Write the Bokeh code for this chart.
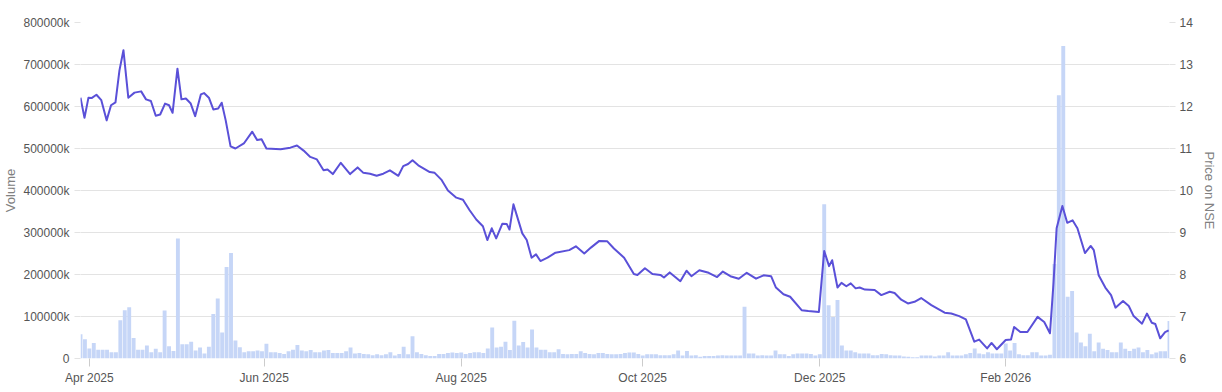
from bokeh.plotting import figure
from bokeh.models import Range1d, LinearAxis, FixedTicker, PrintfTickFormatter, ColumnDataSource
from bokeh.embed import file_html
from bokeh.resources import INLINE

# ---- data (volume in thousands, one bar per trading day) ----
volume_k = [
    58000, 46000, 24000, 37000, 21000, 21000, 21000, 15000, 15000, 91000,
    115000, 122000, 49000, 21000, 21000, 31000, 15000, 23000, 15000, 114000,
    29000, 18000, 286000, 34000, 34000, 40000, 19000, 26000, 12000, 28000,
    106000, 143000, 62000, 218000, 251000, 43000, 27000, 15000, 17000, 17000,
    19000, 17000, 35000, 15000, 15000, 13000, 11000, 17000, 21000, 32000,
    19000, 17000, 20000, 15000, 15000, 19000, 20000, 13000, 13000, 13000,
    17000, 26000, 12000,
    13000, 11000, 10000, 8000, 10000, 8000, 10000, 15000, 7000, 11000,
    28000, 10000, 53000, 15000, 11000, 8000, 6000, 6000, 11000, 11000,
    13000, 14000, 13000, 14000, 11000, 13000, 15000, 15000, 13000, 24000,
    74000, 26000, 28000, 40000, 20000, 90000, 31000, 39000, 26000, 69000,
    26000, 21000, 21000, 15000, 15000, 22000, 11000, 10000, 11000, 11000,
    17000, 13000, 11000, 10000, 13000, 13000, 11000, 10000, 10000, 11000,
    13000, 14000,
    14000, 11000, 7000, 10000, 10000, 10000, 8000, 8000, 8000, 10000,
    19000, 7000, 18000, 7000, 8000, 4000, 6000, 6000, 6000, 7000,
    8000, 7000, 7000, 7000, 7000, 123000, 12000, 12000, 7000, 8000,
    7000, 7000, 19000, 10000, 10000, 6000, 10000, 12000, 12000, 12000,
    11000, 7000, 10000, 367000, 127000, 99000, 139000, 31000, 19000, 19000,
    15000, 12000, 12000, 12000, 8000, 8000, 11000, 10000, 8000, 7000,
    7000,
    5000, 4000, 3000, 3000, 7000, 7000, 7000, 5000, 7000, 7000,
    15000, 7000, 7000, 7000, 10000, 13000, 24000, 12000, 10000, 15000,
    12000, 12000, 12000, 36000, 19000, 37000, 10000, 8000, 8000, 15000,
    15000, 7000, 7000, 9000, 225000, 627000, 744000, 147000, 161000, 62000,
    38000, 29000, 59000, 17000, 38000, 23000, 20000, 15000, 15000, 38000,
    23000, 18000, 23000, 26000, 15000, 20000, 10000, 14000, 17000, 17000,
    89000,
]
day_idx = list(range(len(volume_k)))

# price on NSE, read at positions along the trading-day index
price_idx = [
    0, 0.9, 1.8, 2.5, 3.6, 4.7, 5.9, 6.9, 7.9, 8.8, 9.7, 10.8, 12.2, 13.7, 14.8,
    15.9, 17.0, 18.0, 19.1, 20.0, 20.8, 21.9, 22.8, 23.8, 24.9, 25.9, 27.2, 27.9,
    29.0, 30.0, 31.1, 31.9, 32.8, 33.9, 35.0, 36.9, 38.8, 39.9, 40.9, 42.0, 45.2,
    47.4, 48.9, 50.4, 51.9, 53.4, 54.9, 55.8, 57.0, 58.8, 60.9, 62.6, 63.9, 65.4,
    66.9, 68.4, 69.9, 71.8, 72.9, 74.0, 75.0, 76.3, 78.9, 80.0, 81.5, 83.0, 84.9,
    86.4, 87.9, 89.4, 90.9, 91.9, 92.9, 93.9, 95.3, 96.3, 96.9, 97.8, 99.8, 100.8,
    101.9, 102.9, 103.9, 105.5, 107.3, 110.4, 111.9, 113.8, 115.3, 117.2, 119.0,
    120.5, 122.8, 125.0, 125.8, 127.5, 129.2, 131.0, 131.8, 133.1, 135.5, 136.9,
    138.0, 139.8, 141.9, 143.8, 145.1, 146.8, 148.7, 150.5, 152.6, 154.3, 156.0,
    157.1, 158.8, 160.3, 162.9, 164.4, 166.8, 168.0, 169.1, 169.8, 171.0, 171.9,
    173.0, 174.0, 175.1, 176.0, 177.2, 179.4, 180.9, 182.8, 183.9, 185.4, 186.9,
    188.4, 189.9, 192.2, 195.2, 196.7, 198.5, 200.0, 201.9, 203.0, 204.8, 205.8,
    207.0, 209.0, 210.2, 210.9, 212.3, 213.9, 216.2, 217.7, 219.0, 219.8, 220.5,
    221.8, 222.9, 224.1, 225.2, 226.9, 228.2, 228.9, 230.0, 231.5, 232.8, 233.8,
    235.5, 236.8, 237.9, 239.8, 240.9, 242.0, 242.8, 243.9, 245.0, 245.8,
]
price = [
    12.21, 11.73, 12.21, 12.20, 12.28, 12.15, 11.67, 12.03, 12.10, 12.86, 13.34,
    12.21, 12.33, 12.36, 12.17, 12.13, 11.78, 11.81, 12.07, 12.03, 11.85, 12.90,
    12.17, 12.19, 12.07, 11.77, 12.29, 12.32, 12.21, 11.93, 11.95, 12.09, 11.67,
    11.05, 11.00, 11.12, 11.40, 11.20, 11.22, 11.00, 10.98, 11.02, 11.07, 10.95,
    10.80, 10.74, 10.48, 10.50, 10.39, 10.66, 10.39, 10.55, 10.42, 10.40, 10.35,
    10.40, 10.48, 10.35, 10.58, 10.63, 10.72, 10.60, 10.44, 10.42, 10.26, 10.00,
    9.83, 9.78, 9.53, 9.31, 9.15, 8.82, 9.10, 8.86, 9.21, 9.20, 9.07, 9.67, 8.98,
    8.82, 8.40, 8.48, 8.32, 8.40, 8.52, 8.58, 8.67, 8.50, 8.64, 8.80, 8.79, 8.62,
    8.40, 8.01, 7.99, 8.15, 8.01, 7.99, 7.93, 8.05, 7.84, 8.09, 7.96, 8.10, 8.04,
    7.94, 8.07, 7.96, 7.90, 8.04, 7.90, 7.98, 7.96, 7.69, 7.53, 7.47, 7.15, 7.13,
    7.11, 8.56, 8.20, 8.34, 7.69, 7.80, 7.72, 7.79, 7.67, 7.69, 7.64, 7.63, 7.51,
    7.59, 7.56, 7.40, 7.31, 7.35, 7.44, 7.27, 7.09, 7.07, 7.01, 6.93, 6.40, 6.45,
    6.24, 6.37, 6.22, 6.44, 6.45, 6.75, 6.63, 6.63, 6.99, 6.87, 6.60, 7.80, 9.10,
    9.63, 9.23, 9.29, 9.10, 8.51, 8.68, 8.58, 7.98, 7.69, 7.51, 7.21, 7.37, 7.25,
    7.01, 6.83, 7.07, 6.85, 6.82, 6.48, 6.63, 6.67,
]

month_tick_pos = [2, 41.5, 86, 127, 167, 209]
month_labels = ["Apr 2025", "Jun 2025", "Aug 2025", "Oct 2025", "Dec 2025", "Feb 2026"]
volume_ticks = [0, 100000, 200000, 300000, 400000, 500000, 600000, 700000, 800000]
price_ticks = [6, 7, 8, 9, 10, 11, 12, 13, 14]

FONT = "Liberation Sans"
GRID = "#e3e3e3"
LABEL = "#555555"
TITLE = "#808080"

p = figure(width=1222, height=392, output_backend="svg", toolbar_location=None,
           x_range=Range1d(0, len(volume_k) - 1), y_range=Range1d(0, 800000),
           min_border_left=76, min_border_right=53, min_border_top=22, min_border_bottom=34)
p.extra_y_ranges = {"price": Range1d(6, 14)}
p.outline_line_color = None
p.background_fill_color = "white"
p.border_fill_color = "white"

src = ColumnDataSource(dict(x=day_idx, v=volume_k))
p.vbar(x="x", top="v", width=0.88, source=src, fill_color="#c6d6f7", line_color=None)
p.line(price_idx, price, y_range_name="price", line_color="#5a50d8", line_width=2,
       line_join="round")

p.xgrid.visible = False
p.ygrid.grid_line_color = GRID
p.ygrid.ticker = FixedTicker(ticks=volume_ticks)

# left axis
ya = p.yaxis[0]
ya.ticker = FixedTicker(ticks=volume_ticks)
ya.formatter = PrintfTickFormatter(format="%dk")
ya.major_label_overrides = {0: "0"}
ya.axis_label = "Volume"

# right axis
ra = LinearAxis(y_range_name="price", ticker=FixedTicker(ticks=price_ticks),
                axis_label="Price on NSE")
p.add_layout(ra, "right")

# x axis
xa = p.xaxis[0]
xa.ticker = FixedTicker(ticks=month_tick_pos)
xa.major_label_overrides = {pos: lab for pos, lab in zip(month_tick_pos, month_labels)}

for ax in (ya, ra, xa):
    ax.axis_line_color = None
    ax.minor_tick_line_color = None
    ax.major_tick_line_color = GRID
    ax.major_tick_in = 0
    ax.major_label_text_font = FONT
    ax.major_label_text_font_size = "12px"
    ax.major_label_text_color = LABEL
    ax.axis_label_text_font = FONT
    ax.axis_label_text_font_size = "13px"
    ax.axis_label_text_font_style = "normal"
    ax.axis_label_text_color = TITLE

ya.major_tick_out = 6
ya.major_label_standoff = 5
ya.axis_label_standoff = 2
ra.major_tick_out = 6
ra.major_label_standoff = 4
ra.axis_label_standoff = 6
xa.major_tick_out = 8
xa.major_label_standoff = 4
xa.major_tick_line_color = "#cccccc"

open("out.html", "w").write(file_html(p, INLINE))
